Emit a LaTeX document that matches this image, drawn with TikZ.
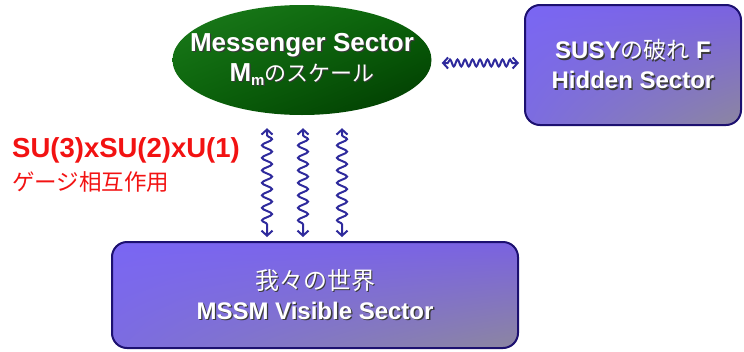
\documentclass[tikz,border=0pt]{standalone}
\usepackage{fontspec}
\setmainfont{Liberation Sans}
\newfontfamily\jpf{Noto Sans CJK JP}
\usetikzlibrary{decorations.pathmorphing,arrows.meta,calc,shapes.geometric,shadings}

\definecolor{boxTL}{HTML}{7A66F4}
\definecolor{boxTR}{HTML}{7A62E0}
\definecolor{boxBL}{HTML}{7C6CE0}
\definecolor{boxBR}{HTML}{8C86A0}
\definecolor{boxEdge}{HTML}{1C1070}
\definecolor{ellTL}{HTML}{1C7C1C}
\definecolor{ellTR}{HTML}{0A640A}
\definecolor{ellBL}{HTML}{0A620A}
\definecolor{ellBR}{HTML}{003800}
\definecolor{waveCol}{HTML}{2E2A9C}
\definecolor{txtShadow}{HTML}{3A3A3A}
\definecolor{gaugeRed}{HTML}{F21212}

% white text with a small dark drop shadow
\newcommand\shd[1]{\leavevmode\rlap{\hspace{1.4pt}\raisebox{-1.4pt}{\color{txtShadow}{#1}}}{#1}}

\tikzset{
  sectorbox/.style={rectangle, rounded corners=15pt, draw=boxEdge, line width=2pt,
    upper left=boxTL, upper right=boxTR, lower left=boxBL, lower right=boxBR,
    text=white, align=center, inner sep=0pt, font=\fontsize{24}{30}\selectfont\bfseries},
  messenger/.style={ellipse, draw=none, inner xsep=-24pt, inner ysep=0pt,
    upper left=ellTL, upper right=ellTR, lower left=ellBL, lower right=ellBR,
    text=white, align=center, font=\fontsize{26}{30}\selectfont\bfseries},
  wavebase/.style={draw=waveCol, line width=2pt, decorate,
    {Straight Barb[length=5pt,width=11pt,line width=2pt]}-{Straight Barb[length=5pt,width=11pt,line width=2pt]}},
  vwave/.style={wavebase, decoration={snake, amplitude=5pt, segment length=12.5pt, pre length=7pt, post length=7pt}},
  hwave/.style={wavebase, decoration={snake, amplitude=3.5pt, segment length=7.5pt, pre length=6pt, post length=6pt}},
}

\begin{document}
\begin{tikzpicture}[x=1pt, y=-1pt]
\useasboundingbox (0,0) rectangle (744,351);

% the three sectors
\node[messenger, minimum width=259pt, minimum height=110pt] (msg) at (302,60)
  {\shd{Messenger Sector}\\
   \shd{M\raisebox{-4pt}{\fontsize{15}{15}\selectfont m}{\jpf\mdseries\fontsize{22}{30}\selectfont のスケール}}};

\node[sectorbox, minimum width=216pt, minimum height=120pt] (hid) at (633,65)
  {\shd{SUSY{\jpf\mdseries\fontsize{23}{30}\selectfont の破れ} F}\\
   \shd{Hidden Sector}};

\node[sectorbox, minimum width=406pt, minimum height=106pt] (vis) at (315,295)
  {\shd{\jpf\mdseries 我々の世界}\\
   \shd{MSSM Visible Sector}};

% gauge interaction label
\node[anchor=north west, align=left, text=gaugeRed, inner sep=0pt,
      font=\fontsize{27.5}{33}\selectfont\bfseries] (gauge) at (12,137)
  {SU(3)xSU(2)xU(1)\\
   {\jpf\mdseries\fontsize{22.5}{32}\selectfont ゲージ相互作用}};

% messenger <-> hidden sector
\path (msg.east) ++(10,3) coordinate (hA);
\draw[hwave] (hA) -- ([xshift=-5pt]hA -| hid.west);

% messenger <-> visible sector (three gauge lines)
\path (msg.south) ++(-35,13) coordinate (vA);
\path (msg.south) ++(1,13) coordinate (vB);
\path (msg.south) ++(40,13) coordinate (vC);
\draw[vwave] (vA) -- ([yshift=4pt]vA |- vis.north);
\draw[vwave] (vB) -- ([yshift=4pt]vB |- vis.north);
\draw[vwave] (vC) -- ([yshift=4pt]vC |- vis.north);
\end{tikzpicture}
\end{document}
